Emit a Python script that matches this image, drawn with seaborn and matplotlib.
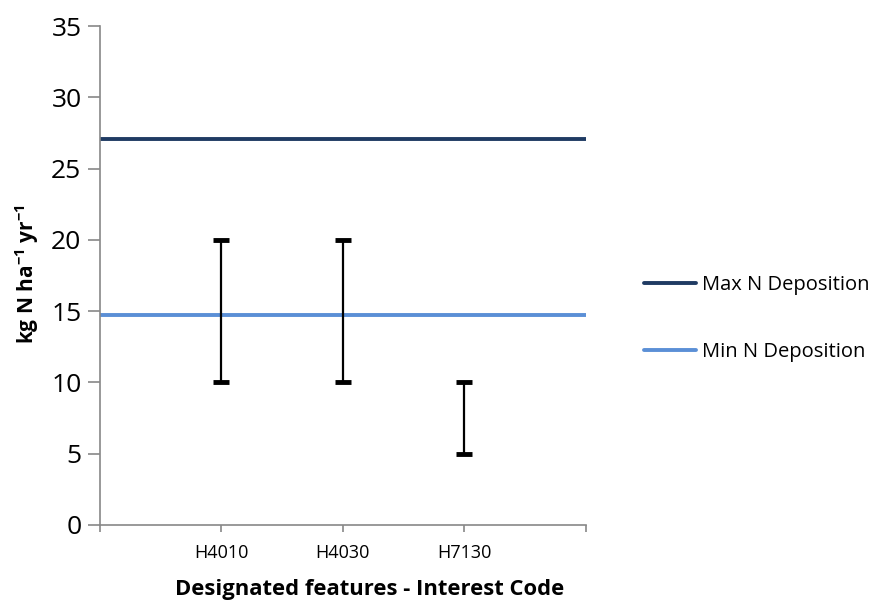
import matplotlib
matplotlib.use("Agg")
import matplotlib.pyplot as plt
import seaborn as sns
import pandas as pd

# ---- data ----
positions = [0, 1, 2, 3, 4]
tick_labels = ["", "H4010", "H4030", "H7130", ""]
max_n = [27.1, 27.1, 27.1, 27.1, 27.1]
min_n = [14.7, 14.7, 14.7, 14.7, 14.7]
feature_pos = [1, 2, 3]
load_low = [10, 10, 5]
load_high = [20, 20, 10]

sns.set_theme(style="white")
plt.rcParams["font.family"] = ["Open Sans", "DejaVu Sans"]
plt.rcParams["mathtext.fontset"] = "custom"
plt.rcParams["mathtext.rm"] = "Open Sans"
plt.rcParams["mathtext.bf"] = "Open Sans:bold"
plt.rcParams["text.color"] = "black"
plt.rcParams["axes.labelcolor"] = "black"
plt.rcParams["xtick.color"] = "black"
plt.rcParams["ytick.color"] = "black"

fig = plt.figure(figsize=(8.74, 6.01), dpi=100)
ax = fig.add_axes([99.5 / 874, 1 - 525 / 601, (586 - 99.5) / 874, (525 - 26) / 601])

df = pd.DataFrame({
    "x": positions * 2,
    "y": max_n + min_n,
    "series": ["Max N Deposition"] * 5 + ["Min N Deposition"] * 5,
})
sns.lineplot(data=df, x="x", y="y", hue="series",
             palette={"Max N Deposition": "#1f3b63", "Min N Deposition": "#5b8fd6"},
             linewidth=2.8, ax=ax, legend=True)

mid = [(l + h) / 2 for l, h in zip(load_low, load_high)]
err = [(h - l) / 2 for l, h in zip(load_low, load_high)]
ax.errorbar(feature_pos, mid, yerr=err, fmt="none", ecolor="black",
            elinewidth=1.6, capsize=5.8, capthick=3.5, zorder=5)

ax.set_xlim(0, 4)
ax.set_ylim(0, 35)
ax.set_xticks(positions)
ax.set_xticklabels(tick_labels, fontsize=13)
ax.set_yticks([0, 5, 10, 15, 20, 25, 30, 35])
ax.tick_params(axis="y", labelsize=19, length=9, width=1.2, color="#888888",
               labelcolor="black", direction="out", left=True, pad=4)
ax.tick_params(axis="x", length=5, width=1.2, color="#888888",
               labelcolor="black", direction="out", bottom=True, pad=9)
for s in ["top", "right"]:
    ax.spines[s].set_visible(False)
for s in ["left", "bottom"]:
    ax.spines[s].set_color("#888888")
    ax.spines[s].set_linewidth(1.2)
ax.set_xlabel("")
ax.set_ylabel(r"kg N ha$\mathbf{^{-1}}$ yr$\mathbf{^{-1}}$", fontsize=15,
              fontweight="bold", color="black")
ax.yaxis.set_label_coords((41 - 99.5) / 486.5, (525 - 274) / 499)

fig.text(370 / 874, 1 - 590 / 601, "Designated features - Interest Code",
         fontsize=15.8, fontweight="bold", ha="center", va="center", color="black")

leg = ax.legend(loc="center left", bbox_to_anchor=(626 / 874, 1 - 318.5 / 601),
                bbox_transform=fig.transFigure, frameon=False, fontsize=14.5,
                handlelength=2.6, handletextpad=0.25, labelspacing=2.3)
for t in leg.get_texts():
    t.set_color("black")

fig.savefig("out.png", dpi=100)
